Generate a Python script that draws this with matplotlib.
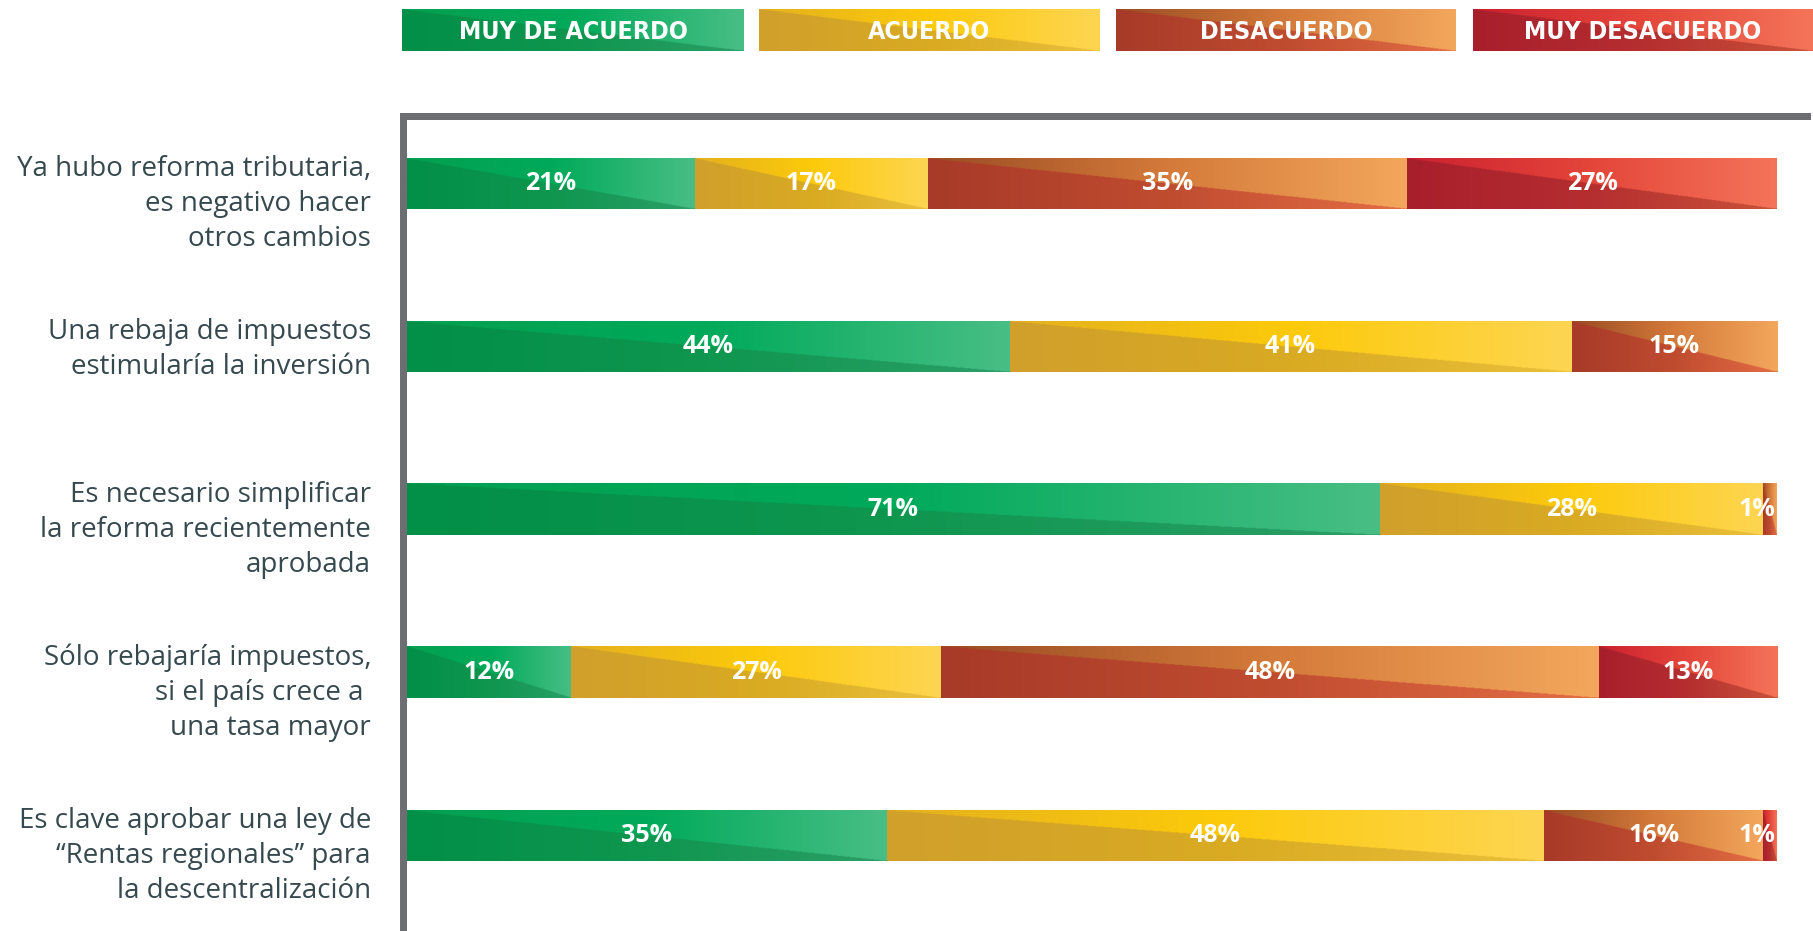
import numpy as np
import matplotlib
matplotlib.use("Agg")
import matplotlib.pyplot as plt
import matplotlib.colors as mcolors
import matplotlib.transforms as mtransforms

# ---------------- data ----------------
categories = [
    "Ya hubo reforma tributaria,\nes negativo hacer\notros cambios",
    "Una rebaja de impuestos\nestimularía la inversión",
    "Es necesario simplificar\nla reforma recientemente\naprobada",
    "Sólo rebajaría impuestos,\nsi el país crece a \nuna tasa mayor",
    "Es clave aprobar una ley de\n\u201cRentas regionales\u201d para\nla descentralización",
]
series_names = ["MUY DE ACUERDO", "ACUERDO", "DESACUERDO", "MUY DESACUERDO"]
muy_de_acuerdo = [21, 44, 71, 12, 35]
acuerdo = [17, 41, 28, 27, 48]
desacuerdo = [35, 15, 1, 48, 16]
muy_desacuerdo = [27, 0, 0, 13, 1]
series_values = [muy_de_acuerdo, acuerdo, desacuerdo, muy_desacuerdo]

# gradient styles: (upper stops, lower stops)
styles = [
    (["#03a050", "#00aa5a", "#48be85"], ["#028f48", "#0f964f", "#2b9f67"]),
    (["#e3b11e", "#fcca0a", "#fed552"], ["#d0a02b", "#d9aa22", "#e9bf3a"]),
    (["#9a4c24", "#d47a3a", "#f3a75c"], ["#a73a28", "#c04c30", "#e36d45"]),
    (["#cc2030", "#e4463a", "#f47459"], ["#a81f2c", "#b52e30", "#c95339"]),
]


def grad_image(style, nx=400, ny=80):
    up, lo = style
    u = np.linspace(0, 1, nx)
    cu = mcolors.LinearSegmentedColormap.from_list("u", up)(u)[:, :3]
    cl = mcolors.LinearSegmentedColormap.from_list("l", lo)(u)[:, :3]
    v = np.linspace(0, 1, ny)[:, None]
    mask = (v < u[None, :])[:, :, None]
    img = np.where(mask, cu[None, :, :], cl[None, :, :])
    return img


W, H = 1813, 931
fig = plt.figure(figsize=(W / 100, H / 100), dpi=100)

# axes geometry in pixels
ax_left_px, ax_right_px = 403, 1807
ax_top_px = 115.5
ax = fig.add_axes([ax_left_px / W, 0, (ax_right_px - ax_left_px) / W, (H - ax_top_px) / H])
ppu = (1777 - 407) / 100.0
ax.set_xlim(-(407 - ax_left_px) / ppu, 100 + (ax_right_px - 1777) / ppu)
row_px = 163.0
first_center = 183.5
ax.set_ylim((H - first_center) / row_px, -(first_center - ax_top_px) / row_px)
bar_h = 51 / row_px

for sp in ["right", "bottom"]:
    ax.spines[sp].set_visible(False)
for sp in ["left", "top"]:
    ax.spines[sp].set_color("#6d6e71")
    ax.spines[sp].set_linewidth(7 * 0.72)
ax.set_xticks([])
ax.set_yticks([])

pct_font = dict(family="Open Sans", weight="bold", color="white", fontsize=18)

for i, cat in enumerate(categories):
    left = 0
    for s, vals in enumerate(series_values):
        v = vals[i]
        if v <= 0:
            continue
        img = grad_image(styles[s])
        ax.imshow(img, extent=(left, left + v, i + bar_h / 2, i - bar_h / 2),
                  aspect="auto", interpolation="bilinear", zorder=2)
        if v < 3:
            ax.text(left + v - 0.1, i, f"{v}%", ha="right", va="center", zorder=3, **pct_font)
        else:
            ax.text(left + v / 2, i, f"{v}%", ha="center", va="center", zorder=3, **pct_font)
        left += v
    trans = mtransforms.blended_transform_factory(ax.transAxes, ax.transData)
    ax.text((371 - ax_left_px) / (ax_right_px - ax_left_px), i - bar_h / 2 - 0.02, cat,
            transform=trans, ha="right", va="top", fontsize=20, family="Open Sans",
            color="#36494e", linespacing=1.33, clip_on=False)

# legend boxes
leg_boxes = [(402, 744), (759, 1100), (1116, 1456), (1473, 1813)]
for s, (x0, x1) in enumerate(leg_boxes):
    lax = fig.add_axes([x0 / W, (H - 51) / H, (x1 - x0) / W, 42 / H])
    lax.imshow(grad_image(styles[s]), extent=(0, 1, 0, 1), aspect="auto",
               interpolation="bilinear")
    lax.set_xlim(0, 1)
    lax.set_ylim(0, 1)
    lax.axis("off")
    lax.text(0.5, 0.45, series_names[s], ha="center", va="center", color="white",
             fontsize=18, family="DejaVu Sans", fontstretch="condensed", weight="bold")

fig.savefig("out.png", dpi=100)
